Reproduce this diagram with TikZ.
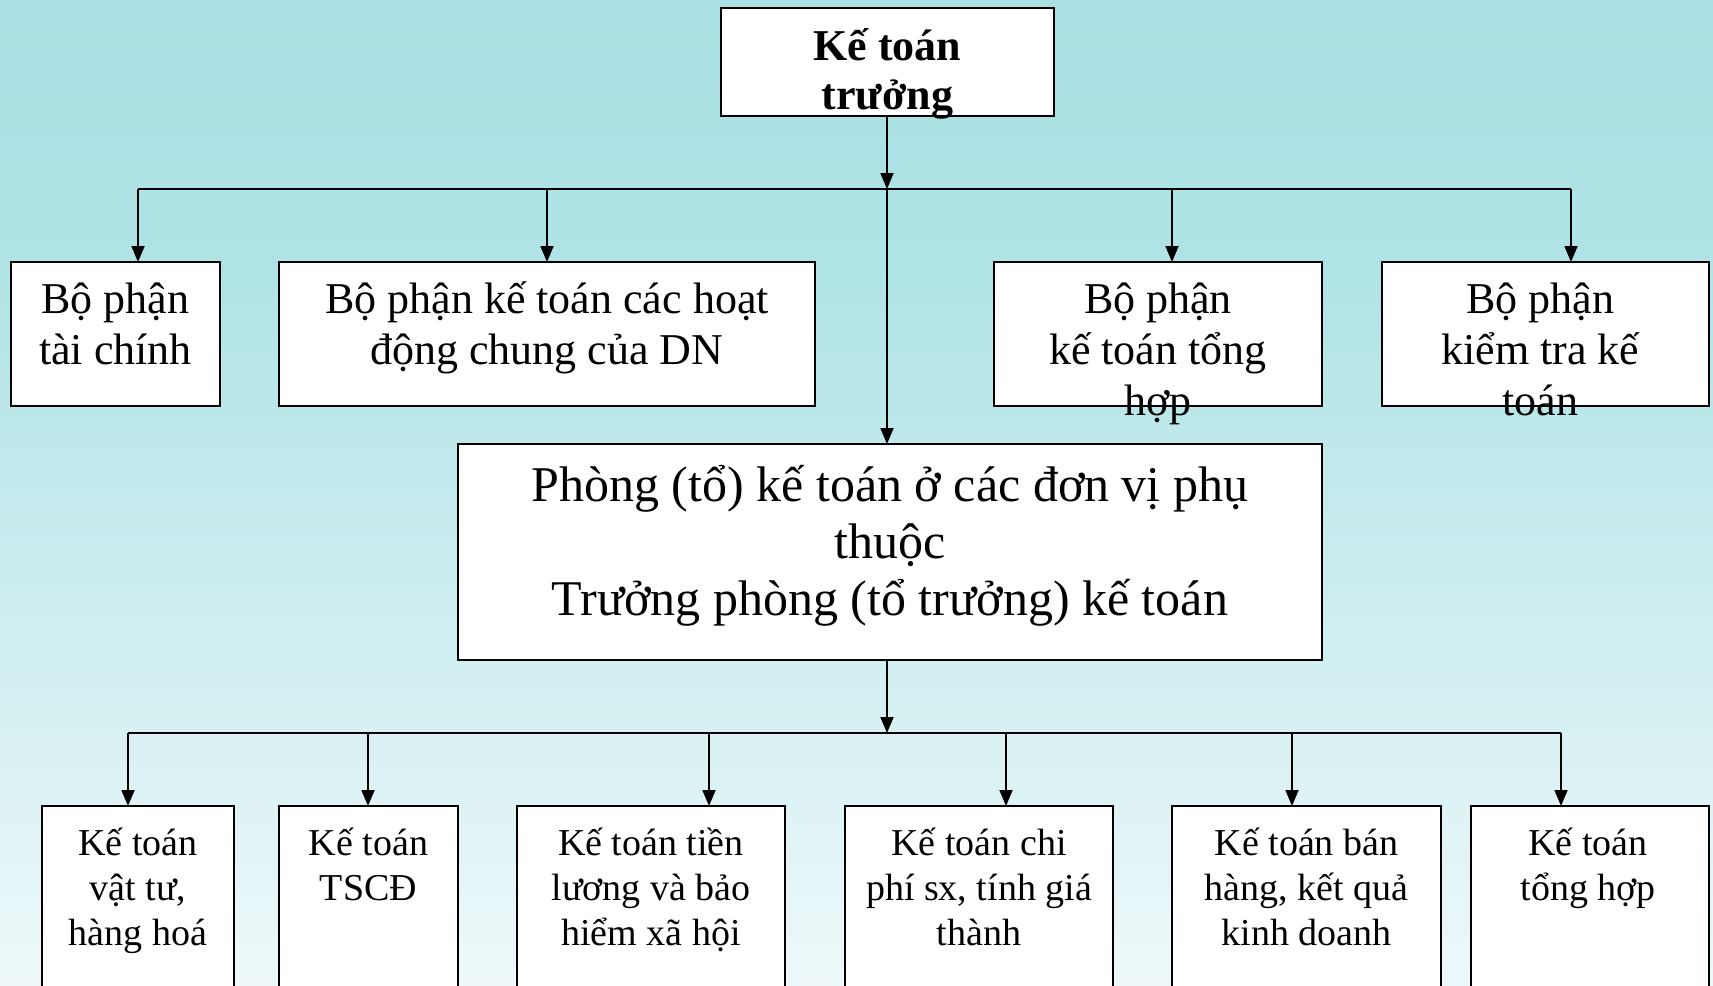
\documentclass[tikz,border=0pt]{standalone}
\usepackage{fontspec}
\setmainfont{Liberation Serif}
\usetikzlibrary{arrows.meta,calc}
\definecolor{bgA}{HTML}{AADFE3}
\definecolor{bgB}{HTML}{AFE3E6}
\definecolor{bgC}{HTML}{CAECEF}
\definecolor{bgD}{HTML}{EEF8FA}
\newcommand\topline{\rule{0pt}{1em}}
\begin{document}
\begin{tikzpicture}[x=1pt,y=-1pt,
  box/.style={draw=black, line width=2pt, fill=white, inner sep=0pt, outer sep=0pt, anchor=north west},
  txt/.style={inner sep=0pt, outer sep=0pt, align=center, anchor=north, text=black},
  arr/.style={line width=1.8pt, -{Triangle[length=16pt,width=13pt]}},
  ln/.style={line width=1.8pt},
  ftop/.style={font=\fontsize{44}{49}\selectfont\bfseries},
  frow/.style={font=\fontsize{44}{51}\selectfont},
  fmid/.style={font=\fontsize{50}{57}\selectfont},
  fbot/.style={font=\fontsize{38}{45}\selectfont}]
\useasboundingbox (0,0) rectangle (1713,985);
\clip (0,0) rectangle (1713,985);
% background
\shade[top color=bgA, bottom color=bgB] (0,0) rectangle (1713,262);
\shade[top color=bgB, middle color=bgC, bottom color=bgD] (0,258) rectangle (1713,985);

% top box
\node[box, minimum width=333pt, minimum height=108pt] (top) at (721,8) {};
\node[txt, ftop] (topt) at ($(top.north)+(0,8)$) {\topline Kế toán\\trưởng};

% first row
\node[box, minimum width=209pt, minimum height=144pt] (r1) at (11,262) {};
\node[box, minimum width=536pt, minimum height=144pt] (r2) at (279,262) {};
\node[box, minimum width=328pt, minimum height=144pt] (r3) at (994,262) {};
\node[box, minimum width=327pt, minimum height=144pt] (r4) at (1382,262) {};
\node[txt, frow] (r1t) at ($(r1.north)+(0,7.5)$) {\topline Bộ phận\\tài chính};
\node[txt, frow] (r2t) at ($(r2.north)+(0,7.5)$) {\topline Bộ phận kế toán các hoạt\\động chung của DN};
\node[txt, frow] (r3t) at ($(r3.north)+(0,7.5)$) {\topline Bộ phận\\kế toán tổng\\hợp};
\node[txt, frow] (r4t) at ($(r4.north)+(-5,7.5)$) {\topline Bộ phận\\kiểm tra kế\\toán};

% middle box
\node[box, minimum width=864pt, minimum height=216pt] (mid) at (458,444) {};
\node[txt, fmid] (midt) at ($(mid.north)+(0,7)$) {\topline Phòng (tổ) kế toán ở các đơn vị phụ\\thuộc\\Trưởng phòng (tổ trưởng) kế toán};

% bottom row
\node[box, minimum width=192pt, minimum height=220pt] (b1) at (42,806) {};
\node[box, minimum width=179pt, minimum height=220pt] (b2) at (279,806) {};
\node[box, minimum width=268pt, minimum height=220pt] (b3) at (517,806) {};
\node[box, minimum width=268pt, minimum height=220pt] (b4) at (845,806) {};
\node[box, minimum width=269pt, minimum height=220pt] (b5) at (1172,806) {};
\node[box, minimum width=238pt, minimum height=220pt] (b6) at (1471,806) {};
\node[txt, fbot] (b1t) at ($(b1.north)+(0,11)$) {\topline Kế toán\\vật tư,\\hàng hoá};
\node[txt, fbot] (b2t) at ($(b2.north)+(0,11)$) {\topline Kế toán\\TSCĐ};
\node[txt, fbot] (b3t) at ($(b3.north)+(0,11)$) {\topline Kế toán tiền\\lương và bảo\\hiểm xã hội};
\node[txt, fbot] (b4t) at ($(b4.north)+(0,11)$) {\topline Kế toán chi\\phí sx, tính giá\\thành};
\node[txt, fbot] (b5t) at ($(b5.north)+(0,11)$) {\topline Kế toán bán\\hàng, kết quả\\kinh doanh};
\node[txt, fbot] (b6t) at ($(b6.north)+(-2,11)$) {\topline Kế toán\\tổng hợp};

% connectors, first level
\coordinate (j1) at (887,189);
\coordinate (u1) at (138,189);
\coordinate (u2) at (547,189);
\coordinate (u3) at (1172,189);
\coordinate (u4) at (1571,189);
\draw[ln] (u1) -- (u4);
\draw[arr] (j1 |- top.south) -- (j1);
\draw[arr] (u1) -- (u1 |- r1.north);
\draw[arr] (u2) -- (u2 |- r2.north);
\draw[arr] (u3) -- (u3 |- r3.north);
\draw[arr] (u4) -- (u4 |- r4.north);
\draw[arr] (j1) -- (j1 |- mid.north);

% connectors, second level
\coordinate (j2) at (887,733);
\coordinate (v1) at (128,733);
\coordinate (v2) at (368,733);
\coordinate (v3) at (709,733);
\coordinate (v4) at (1006,733);
\coordinate (v5) at (1292,733);
\coordinate (v6) at (1561,733);
\draw[ln] (v1) -- (v6);
\draw[arr] (j2 |- mid.south) -- (j2);
\draw[arr] (v1) -- (v1 |- b1.north);
\draw[arr] (v2) -- (v2 |- b2.north);
\draw[arr] (v3) -- (v3 |- b3.north);
\draw[arr] (v4) -- (v4 |- b4.north);
\draw[arr] (v5) -- (v5 |- b5.north);
\draw[arr] (v6) -- (v6 |- b6.north);
\end{tikzpicture}
\end{document}
